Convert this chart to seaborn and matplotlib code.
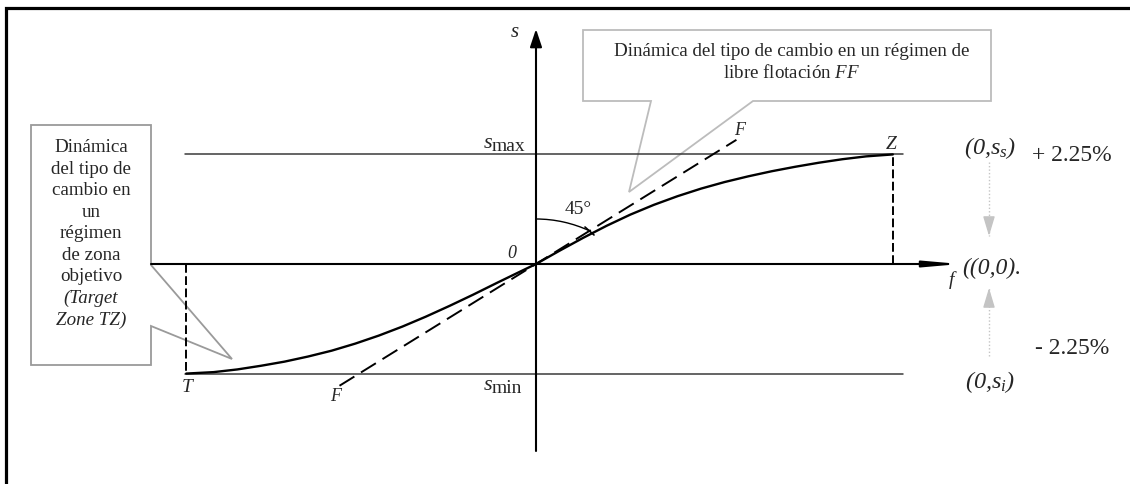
import numpy as np
import matplotlib.pyplot as plt
import seaborn as sns
import pandas as pd
from matplotlib.patches import Polygon, Arc

# band limits of the target zone (s max / s min) and their labels
band_s = [2.25, -2.25]
band_pct = ['+ 2.25%', '- 2.25%']
band_pts = [r'$(0{,}s_s)$', r'$(0{,}s_i)$']
band_names = ['max', 'min']
# fundamentals at T and Z, and reach of the band lines
tz_ends_f = [-4.45, 4.54]
band_line_f = [-4.46, 4.67]

# S shaped target zone curve
tz_f = [-4.45, -4.1, -3.8, -3.5, -3.2, -2.9, -2.6, -2.3, -2.0, -1.7, -1.4,
        -1.1, -0.8, -0.5, -0.2, 0.0, 0.3, 0.6, 0.9, 1.2, 1.5, 1.8, 2.1,
        2.4, 2.7, 3.0, 3.3, 3.6, 3.9, 4.2, 4.54]
tz_s = [-2.25, -2.22, -2.165, -2.09, -2.005, -1.90, -1.78, -1.635, -1.47,
        -1.285, -1.08, -0.86, -0.63, -0.39, -0.155, 0.0, 0.273, 0.537,
        0.786, 1.014, 1.215, 1.392, 1.548, 1.683, 1.80, 1.905, 1.997, 2.08,
        2.152, 2.21, 2.25]

# free float line FF at 45 degrees
ff_f = [-2.50, 2.55]
ff_s = [-2.50, 2.55]

# pixel -> data helpers (origin of the diagram at pixel 536,265)
OX, OY = 536, 265
PX_F, PX_S = 78.6, 48.7


def px(x, y):
    return (x - OX) / PX_F, (OY - y) / PX_S


sns.set_theme(style='white')
plt.rcParams['font.family'] = ['Liberation Serif', 'DejaVu Serif']
plt.rcParams['mathtext.fontset'] = 'custom'
plt.rcParams['mathtext.rm'] = 'Liberation Serif:italic'
plt.rcParams['mathtext.it'] = 'Liberation Serif:italic'

fig = plt.figure(figsize=(11.3, 4.85), dpi=100)
ax = fig.add_axes([0, 0, 1, 1])
ax.set_xlim(px(0, 0)[0], px(1130, 0)[0])
ax.set_ylim(px(0, 485)[1], px(0, 0)[1])
ax.axis('off')


def put(x, y, s, **kw):
    kw.setdefault('ha', 'center')
    kw.setdefault('va', 'center')
    ax.text(*px(x, y), s, **kw)


# frame (left and top only)
bx = [px(6, 0)[0], px(6, 0)[0], px(1130, 0)[0]]
by = [px(0, 485)[1], px(0, 9)[1], px(0, 9)[1]]
ax.plot(bx, by, color='black', lw=2.3, solid_joinstyle='miter', zorder=5)

# callout boxes
left_box = [(31, 126), (151, 126), (151, 266), (232, 360), (151, 327),
            (151, 366), (31, 366)]
ax.add_patch(Polygon([px(*p) for p in left_box], closed=True, fc='white',
                     ec='#9a9a9a', lw=1.3, zorder=1))
top_box = [(583, 31), (991, 31), (991, 102), (753, 102), (629, 193),
           (651, 102), (583, 102)]
ax.add_patch(Polygon([px(*p) for p in top_box], closed=True, fc='white',
                     ec='#bcbcbc', lw=1.3, zorder=1))

# axes with arrows
ax.annotate('', xy=(0, px(0, 30)[1]), xytext=(0, px(0, 452)[1]),
            arrowprops=dict(arrowstyle='-|>,head_length=0.9,head_width=0.3',
                            color='black', lw=1.5, shrinkA=0, shrinkB=0),
            zorder=3)
ax.annotate('', xy=(px(960, 0)[0], 0), xytext=(px(151, 0)[0], 0),
            arrowprops=dict(arrowstyle='-|>,head_length=1.7,head_width=0.15',
                            color='black', lw=1.5, shrinkA=0, shrinkB=0),
            zorder=3)

# band lines s max / s min
for s in band_s:
    ax.plot(band_line_f, [s, s], color='#3a3a3a', lw=1.1, zorder=2)

# dashed verticals at T and Z
for f, s in zip(tz_ends_f, band_s[::-1]):
    ax.plot([f, f], [0, s], color='black', lw=1.4, dashes=(4.5, 1.8), zorder=2)

# free float line and target zone curve
sns.lineplot(x=ff_f, y=ff_s, ax=ax, color='black', lw=1.4, zorder=3)
ax.lines[-1].set_dashes((9, 4))
tz = pd.DataFrame({'f': tz_f, 's': tz_s})
sns.lineplot(data=tz, x='f', y='s', ax=ax, sort=False, color='black',
             lw=1.7, zorder=4)

# 45 degree arc (circle on screen centred below the origin)
cx, cy = px(536, 347)
ex, ey = px(590, 232)
t1 = np.degrees(np.arctan2(ey - cy, ex - cx))
ax.add_patch(Arc((cx, cy), 2 * 127 / PX_F, 2 * 127 / PX_S,
                 theta1=t1, theta2=90, color='black', lw=1.0, zorder=3))
ax.plot(*zip(px(585, 228), px(594, 236)), color='black', lw=1.2, zorder=3)
put(578, 210, '45°', fontsize=14)

# axis and point labels
put(515, 33, 's', fontsize=15, style='italic')
put(951, 280, 'f', fontsize=14, style='italic')
put(512, 254, '0', fontsize=13, style='italic')
put(187, 388, 'T', fontsize=14, style='italic')
put(891, 145, 'Z', fontsize=14, style='italic')
put(740, 131, 'F', fontsize=13, style='italic')
put(336, 397, 'F', fontsize=13, style='italic')
for name, yb in zip(band_names, [148, 390]):
    put(492, yb, 's', fontsize=16, style='italic', ha='right', va='baseline')
    put(492, yb + 3, name, fontsize=14, ha='left', va='baseline')

# right hand side annotations
for lab, pct, y_lab, y_pct in zip(band_pts, band_pct, [148, 382], [156, 349]):
    put(990, y_lab, lab, fontsize=17.5)
    put(1072, y_pct, pct, fontsize=17)
put(962, 268, '((0,0).', fontsize=17, style='italic', ha='left')
for y0, y1 in [(163, 237), (357, 289)]:
    ax.plot([px(989, 0)[0]] * 2, [px(0, y0)[1], px(0, y1)[1]],
            color='#c4c4c4', lw=1.0, ls=(0, (1, 1.5)), zorder=2)
    ax.annotate('', xy=px(989, y1), xytext=px(989, y1 + (y0 - y1) * 0.1),
                arrowprops=dict(arrowstyle='-|>,head_length=1.0,head_width=0.3',
                                color='#c4c4c4', lw=1.0, shrinkA=0, shrinkB=0))

# callout texts
left_lines = ['Dinámica', 'del tipo de', 'cambio en', 'un', 'régimen',
              'de zona', 'objetivo', '(Target', 'Zone TZ)']
for i, line in enumerate(left_lines):
    put(91, 148 + i * 21.5, line, fontsize=13.7,
        style='italic' if i >= 7 else 'normal', zorder=6)
put(792, 52, 'Dinámica del tipo de cambio en un régimen de', fontsize=13.7)
put(792, 73, r'libre flotación $\mathit{FF}$', fontsize=13.7)

fig.savefig('out.png', dpi=100)
